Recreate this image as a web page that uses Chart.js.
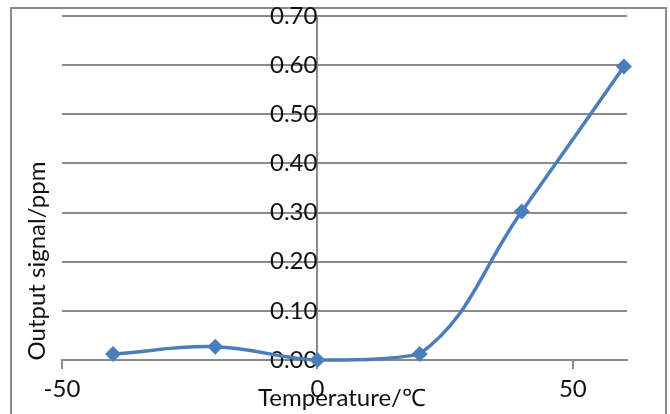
<!DOCTYPE html>
<html>
<head>
<meta charset="utf-8">
<script src="https://cdn.jsdelivr.net/npm/chart.js@4/dist/chart.umd.min.js"></script>
<style>
html,body{margin:0;padding:0;background:#fff;}
#wrap{width:670px;height:414px;}
</style>
</head>
<body>
<div id="wrap"><canvas id="c" width="670" height="414"></canvas></div>
<script>
// ---- data ----
const temperatures = [-40, -20, 0, 20, 40, 60];
const outputSignal = [0.012, 0.027, 0.0, 0.012, 0.302, 0.597];
const xTickValues = [-50, 0, 50];
const yTickValues = [0, 0.1, 0.2, 0.3, 0.4, 0.5, 0.6, 0.7];
const xTitle = 'Temperature/\u2103';
const yTitle = 'Output signal/ppm';

const FONT = 'Lato, "Open Sans", sans-serif';
const GRAY = '#8a8a8a';
const BLUE = '#4a7ebb';

const framePlugin = {
  id: 'frame',
  beforeDraw(chart) {
    const ctx = chart.ctx;
    ctx.save();
    ctx.fillStyle = '#fff';
    ctx.fillRect(0, 0, chart.width, chart.height);
    ctx.strokeStyle = GRAY;
    ctx.lineWidth = 2;
    ctx.strokeRect(11, 8, 655, 430);
    ctx.restore();
  },
  afterDraw(chart) {
    const ctx = chart.ctx;
    const a = chart.chartArea;
    ctx.save();
    ctx.fillStyle = '#111';
    ctx.font = '24px ' + FONT;
    ctx.textAlign = 'center';
    ctx.textBaseline = 'middle';
    ctx.fillText(xTitle, a.left + 280, a.bottom + 38);
    ctx.translate(37, a.bottom - 99);
    ctx.rotate(-Math.PI / 2);
    ctx.fillText(yTitle, 0, 0);
    ctx.restore();
  }
};

new Chart(document.getElementById('c'), {
  type: 'line',
  data: {
    datasets: [{
      data: temperatures.map((t, i) => ({x: t, y: outputSignal[i]})),
      borderColor: BLUE,
      backgroundColor: BLUE,
      borderWidth: 3.5,
      pointStyle: 'rectRot',
      pointRadius: 8,
      pointBorderWidth: 0,
      tension: 0.4,
      clip: false,
      fill: false
    }]
  },
  options: {
    responsive: false,
    devicePixelRatio: 1,
    animation: false,
    layout: {padding: {left: 62, right: 43, top: 16, bottom: 0}},
    plugins: {legend: {display: false}, tooltip: {enabled: false}, title: {display: false}},
    scales: {
      x: {
        type: 'linear',
        position: 'bottom',
        min: -50,
        max: 60.6,
        afterBuildTicks: s => { s.ticks = xTickValues.map(v => ({value: v})); },
        afterFit: s => { s.height = 54; s.paddingLeft = 0; s.paddingRight = 0; },
        grid: {drawOnChartArea: false, drawTicks: true, tickLength: 9, color: GRAY, lineWidth: 2},
        border: {display: true, color: GRAY, width: 2},
        ticks: {font: {family: FONT, size: 24}, color: '#111', padding: 6, maxRotation: 0}
      },
      y: {
        type: 'linear',
        position: {x: 0},
        min: 0,
        max: 0.7,
        afterBuildTicks: s => { s.ticks = yTickValues.map(v => ({value: v})); },
        afterFit: s => { s.paddingTop = 0; s.paddingBottom = 0; },
        grid: {color: GRAY, lineWidth: 2, drawTicks: false},
        border: {display: true, color: GRAY, width: 2},
        ticks: {font: {family: FONT, size: 24}, color: '#111', padding: 19,
                callback: v => Number(v).toFixed(2)}
      }
    }
  },
  plugins: [framePlugin]
});
</script>
</body>
</html>
